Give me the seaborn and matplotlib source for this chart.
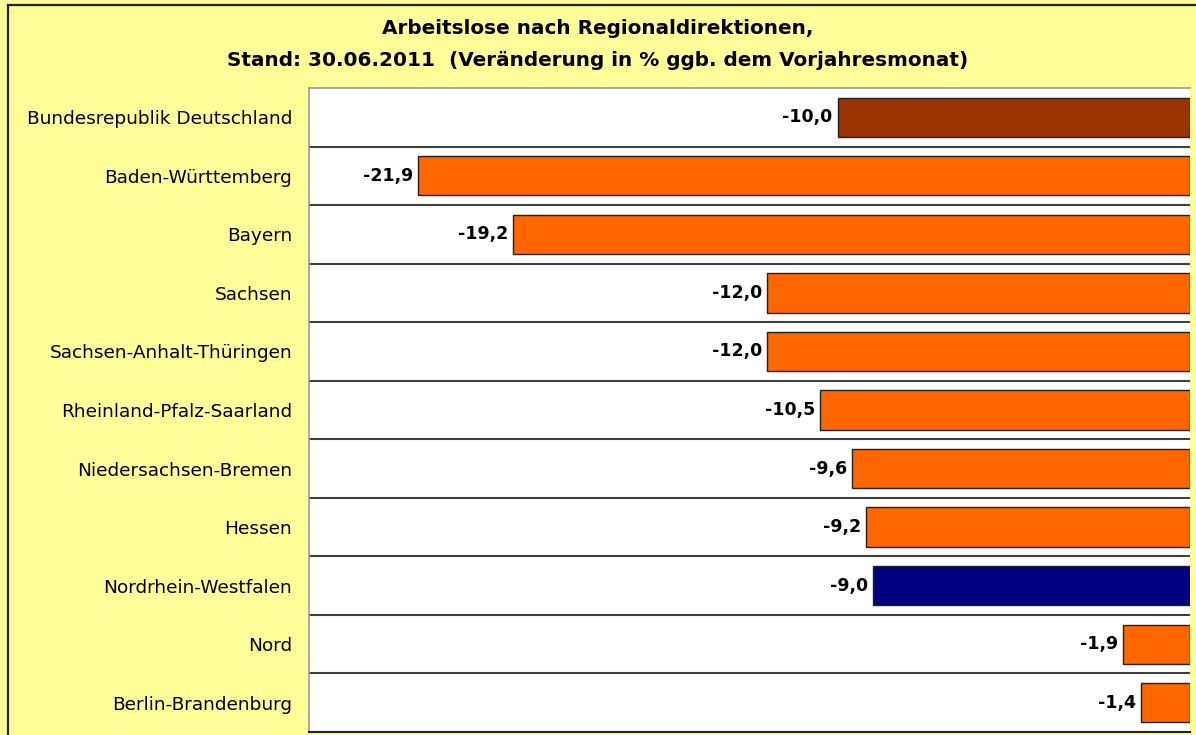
import matplotlib
matplotlib.use("Agg")
import matplotlib.pyplot as plt
import seaborn as sns
import pandas as pd
from matplotlib.patches import Rectangle

# data
regions = [
    "Bundesrepublik Deutschland",
    "Baden-Württemberg",
    "Bayern",
    "Sachsen",
    "Sachsen-Anhalt-Thüringen",
    "Rheinland-Pfalz-Saarland",
    "Niedersachsen-Bremen",
    "Hessen",
    "Nordrhein-Westfalen",
    "Nord",
    "Berlin-Brandenburg",
]
change_pct = [-10.0, -21.9, -19.2, -12.0, -12.0, -10.5, -9.6, -9.2, -9.0, -1.9, -1.4]
bar_colors = ["#993300"] + ["#FF6600"] * 7 + ["#000080"] + ["#FF6600"] * 2

df = pd.DataFrame({"region": regions, "change": change_pct})

sns.set_style("white")
plt.rcParams["font.family"] = ["DejaVu Sans"]
plt.rcParams["text.color"] = "black"
plt.rcParams["ytick.color"] = "black"
plt.rcParams["ytick.labelcolor"] = "black"

fig = plt.figure(figsize=(11.96, 7.35), dpi=100)
fig.patch.set_facecolor("#FFFF99")

# outer frame of the chart (right/bottom cut off in the original)
fig.add_artist(Rectangle((8 / 1196, -0.1), 1.2, 1 - 5 / 735 + 0.1,
                         transform=fig.transFigure, fill=False,
                         edgecolor="#222222", linewidth=1.6))

ax = fig.add_axes([309 / 1196, 3 / 735, 881 / 1196, 644 / 735])
ax.set_facecolor("white")

sns.barplot(data=df, y="region", x="change", hue="region", palette=bar_colors,
            saturation=1, orient="h", width=0.67, edgecolor="#222222",
            linewidth=1.0, legend=False, ax=ax)

ax.set_xlim(-25, 0)
ax.set_ylim(len(regions) - 0.5, -0.5)

# separator lines between categories
for i in range(len(regions) - 1):
    ax.axhline(i + 0.5, color="#404040", linewidth=1.5, zorder=0.5)

# value labels left of each bar
for i, v in enumerate(change_pct):
    ax.annotate(f"{v:.1f}".replace(".", ","), (v, i), xytext=(-3.6, 0),
                textcoords="offset points", ha="right", va="center",
                fontsize=12.5, fontweight="semibold", color="black")

ax.set_xticks([])
ax.set_xlabel("")
ax.set_ylabel("")
ax.tick_params(axis="y", length=0, pad=12.2, labelsize=13.3, labelcolor="black")
for s in ["left", "top"]:
    ax.spines[s].set_color("#999999")
    ax.spines[s].set_linewidth(1.2)
ax.spines["right"].set_visible(False)
ax.spines["bottom"].set_color("#222222")
ax.spines["bottom"].set_linewidth(1.5)

fig.text(0.5, 1 - 28 / 735, "Arbeitslose nach Regionaldirektionen,",
         ha="center", va="center", fontsize=14.4, fontweight="semibold")
fig.text(0.5, 1 - 60 / 735,
         "Stand: 30.06.2011  (Veränderung in % ggb. dem Vorjahresmonat)",
         ha="center", va="center", fontsize=14.4, fontweight="semibold")

fig.savefig("out.png", dpi=100, facecolor=fig.get_facecolor())
